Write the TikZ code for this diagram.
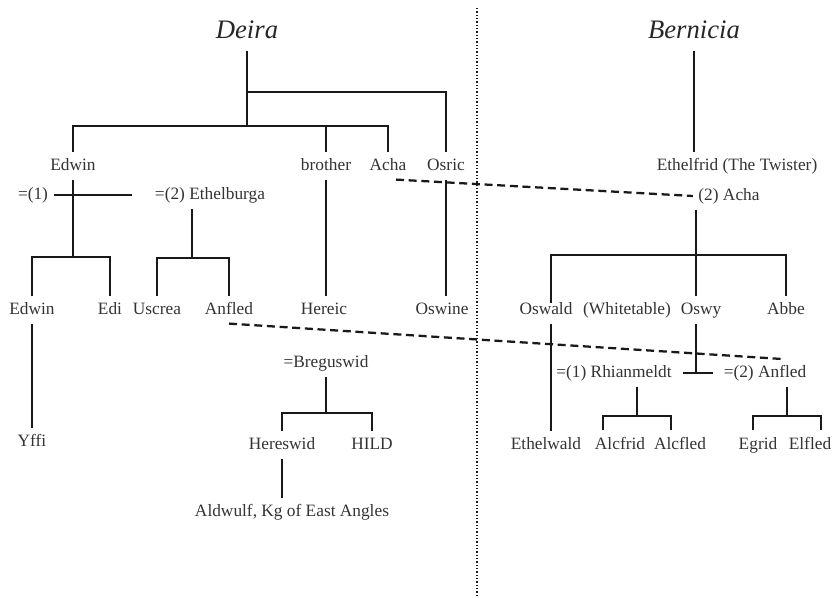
\documentclass[tikz,border=0pt]{standalone}
\usepackage{fontspec}
\setmainfont{Liberation Serif}
\begin{document}
\begin{tikzpicture}[x=0.75pt,y=-0.75pt]
	\tikzset{person/.style={font=\fontsize{13}{15}\selectfont, text=black!80, text height=9.5pt, text depth=2.5pt, inner sep=4pt}};
	\tikzset{house/.style={font=\fontsize{20}{24}\selectfont\itshape, text=black!85, inner sep=9pt}};
	\tikzset{kin/.style={line width=2.1pt, black!90}};
	\tikzset{wed/.style={line width=1.7pt, black!90, dash pattern=on 6pt off 3.5pt}};
	\tikzset{border/.style={line width=1.1pt, black!90, dash pattern=on 1.1pt off 1.4pt}};
	\useasboundingbox (0,0) rectangle (833,598);

	\node[house] (deira) at (247,30) {Deira};
	\node[house] (bernicia) at (694,30) {Bernicia};

	\node[person] (edwin) at (73,166) {Edwin};
	\node[person] (brother) at (326,166) {brother};
	\node[person] (acha) at (388,166) {Acha};
	\node[person] (osric) at (446,166) {Osric};
	\node[person] (ethelfrid) at (737,166) {Ethelfrid (The Twister)};

	\node[person] (wifea) at (33,195) {=(1)};
	\node[person] (ethelburga) at (210,195) {=(2) Ethelburga};
	\node[person] (achab) at (729,196) {(2) Acha};

	\node[person] (edwinb) at (32,310) {Edwin};
	\node[person] (edi) at (110,310) {Edi};
	\node[person] (uscrea) at (157,310) {Uscrea};
	\node[person] (anfled) at (229,310) {Anfled};
	\node[person] (hereic) at (324,310) {Hereic};
	\node[person] (oswine) at (442,310) {Oswine};
	\node[person] (oswald) at (546,310) {Oswald};
	\node[person] (whitetable) at (627,310) {(Whitetable)};
	\node[person] (oswy) at (701,310) {Oswy};
	\node[person] (abbe) at (786,310) {Abbe};

	\node[person] (breguswid) at (326,363) {=Breguswid};
	\node[person] (rhian) at (614,373) {=(1) Rhianmeldt};
	\node[person] (anfledb) at (765,373) {=(2) Anfled};

	\node[person] (yffi) at (32,442) {Yffi};
	\node[person] (hereswid) at (282,445) {Hereswid};
	\node[person] (hild) at (372,445) {HILD};
	\node[person] (ethelwald) at (546,445) {Ethelwald};
	\node[person] (alcfrid) at (620,445) {Alcfrid};
	\node[person] (alcfled) at (680,445) {Alcfled};
	\node[person] (egrid) at (758,445) {Egrid};
	\node[person] (elfled) at (810,445) {Elfled};
	\node[person] (aldwulf) at (292,512) {Aldwulf, Kg of East Angles};

	\coordinate (dtop) at (247,92);
	\coordinate (dmid) at (247,126);
	\coordinate (wedend) at (132,195);
	\coordinate (ejoin) at (73,257);
	\coordinate (ujoin) at (192,258);
	\coordinate (ajoin) at (696,255);
	\coordinate (oswl) at (551,303);
	\coordinate (wedto) at (782,359);
	\coordinate (bjoin) at (326,413);
	\coordinate (rjoin) at (637,416);
	\coordinate (rleft) at (603,430);
	\coordinate (rright) at (671,430);
	\coordinate (fjoin) at (787,416);
	\coordinate (fleft) at (753,430);
	\coordinate (fright) at (821,430);
	\coordinate (ntop) at (477,8);
	\coordinate (nbot) at (477,598);

	\draw[border] (ntop) -- (nbot);

	\draw[kin] (deira.south) -- (dmid);
	\draw[kin] (dtop) -| (osric.north);
	\draw[kin] (edwin.north) |- (acha.north |- dmid) -- (acha.north);
	\draw[kin] (brother.north) -- (brother.north |- dmid);
	\draw[kin] (bernicia.south) -- (bernicia.south |- ethelfrid.north);

	\draw[kin] (wifea.east) -- (wedend);
	\draw[kin] (edwin.south) -- (ejoin);
	\draw[kin] (edwinb.north) |- (edi.north |- ejoin) -- (edi.north);
	\draw[kin] (edwinb.south) -- (yffi.north);
	\draw[kin] (ujoin |- ethelburga.south) -- (ujoin);
	\draw[kin] (uscrea.north) |- (anfled.north |- ujoin) -- (anfled.north);
	\draw[kin] (brother.south) -- (brother.south |- hereic.north);
	\draw[kin] (osric.south) -- (osric.south |- oswine.north);

	\draw[wed] ([xshift=6pt]acha.south) -- (achab.west);
	\draw[wed] (anfled.south) -- (wedto);

	\draw[kin] (ajoin |- achab.south) -- (ajoin |- oswy.north);
	\draw[kin] (oswl) |- (abbe.north |- ajoin) -- (abbe.north);
	\draw[kin] (oswl |- oswald.south) -- (oswl |- ethelwald.north);
	\draw[kin] (ajoin |- oswy.south) -- (ajoin |- rhian);
	\draw[kin, shorten <=4pt, shorten >=4pt] (rhian.east) -- (anfledb.west);

	\draw[kin] (rjoin |- rhian.south) -- (rjoin);
	\draw[kin] (rleft) |- (rjoin) -| (rright);
	\draw[kin] (fjoin |- anfledb.south) -- (fjoin);
	\draw[kin] (fleft) |- (fjoin) -| (fright);

	\draw[kin] (breguswid.south) -- (bjoin);
	\draw[kin] (hereswid.north) |- (bjoin) -| (hild.north);
	\draw[kin] (hereswid.south) -- (hereswid.south |- aldwulf.north);
\end{tikzpicture}
\end{document}
